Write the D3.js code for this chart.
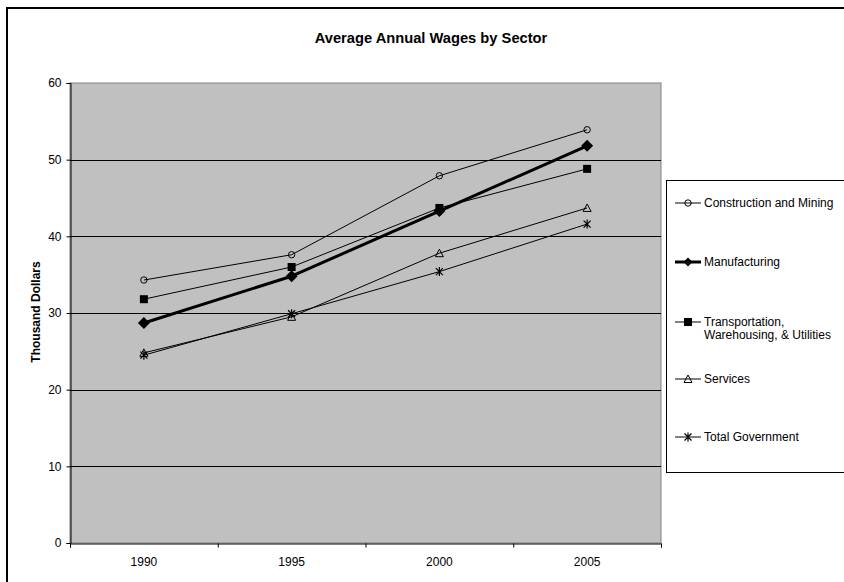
<!DOCTYPE html>
<html>
<head>
<meta charset="utf-8">
<script src="https://cdn.jsdelivr.net/npm/d3@7"></script>
<style>
  html, body { margin: 0; padding: 0; background: #fff; }
  svg { display: block; font-family: "Liberation Sans", Arial, sans-serif; }
</style>
</head>
<body>
<svg id="chart" width="844" height="582"></svg>
<script>
// Average annual wages (thousand dollars) by sector
const years = ["1990", "1995", "2000", "2005"];
const sectors = [
  "Construction and Mining",
  "Manufacturing",
  "Transportation, Warehousing, & Utilities",
  "Services",
  "Total Government"
];
const constructionMining = [34.3, 37.6, 47.9, 53.9];
const manufacturing      = [28.7, 34.8, 43.3, 51.8];
const transportation     = [31.8, 36.0, 43.7, 48.8];
const services           = [24.8, 29.5, 37.8, 43.7];
const totalGovernment    = [24.5, 29.9, 35.4, 41.6];
const yTicks = [0, 10, 20, 30, 40, 50, 60];

const seriesValues = [constructionMining, manufacturing, transportation, services, totalGovernment];
const markerTypes = ["circle", "diamond", "square", "triangle", "asterisk"];
const lineWidths = [1, 3, 1, 1, 1];
const legendLines = [
  ["Construction and Mining"],
  ["Manufacturing"],
  ["Transportation,", "Warehousing, & Utilities"],
  ["Services"],
  ["Total Government"]
];

const svg = d3.select("#chart");
const FONT = "Liberation Sans, Arial, sans-serif";

// outer chart frame
svg.append("rect")
  .attr("x", 7).attr("y", 8).attr("width", 900).attr("height", 640)
  .attr("fill", "#fff").attr("stroke", "#000").attr("stroke-width", 2);

const plot = { left: 70, right: 661, top: 83, bottom: 543 };

const x = d3.scaleBand().domain(years).range([plot.left, plot.right]).padding(0);
const xBound = d3.scaleLinear().domain([0, years.length]).range([plot.left, plot.right]);
const y = d3.scaleLinear().domain([0, 60]).range([plot.bottom, plot.top]);
const cx = d => x(d) + x.bandwidth() / 2;

// plot area
svg.append("rect")
  .attr("x", plot.left).attr("y", plot.top)
  .attr("width", plot.right - plot.left).attr("height", plot.bottom - plot.top)
  .attr("fill", "#c0c0c0").attr("stroke", "#808080").attr("stroke-width", 1);

// horizontal gridlines
svg.append("g").selectAll("line")
  .data(yTicks.filter(t => t > 0 && t < 60))
  .join("line")
  .attr("x1", plot.left).attr("x2", plot.right)
  .attr("y1", d => Math.round(y(d)) + 0.5).attr("y2", d => Math.round(y(d)) + 0.5)
  .attr("stroke", "#000").attr("stroke-width", 1);

// y axis
const yAxis = svg.append("g")
  .attr("transform", `translate(${plot.left + 0.5},0)`)
  .call(d3.axisLeft(y).tickValues(yTicks).tickSize(4).tickPadding(5).tickFormat(d3.format("d")));
yAxis.select(".domain").attr("stroke", "#000");
yAxis.selectAll(".tick line").attr("stroke", "#000");
yAxis.selectAll("text").attr("font-size", 12).attr("fill", "#000").attr("font-family", FONT);

// x axis: tick marks on category boundaries, labels centered in each category
const xAxis = svg.append("g")
  .attr("transform", `translate(0,${plot.bottom + 0.5})`)
  .call(d3.axisBottom(xBound).tickValues(d3.range(years.length + 1)).tickSize(4).tickFormat(""));
xAxis.select(".domain").attr("stroke", "#000");
xAxis.selectAll(".tick line").attr("stroke", "#000");

const xLabels = svg.append("g")
  .attr("transform", `translate(0,${plot.bottom + 0.5})`)
  .call(d3.axisBottom(x).tickSize(0).tickPadding(14));
xLabels.select(".domain").remove();
xLabels.selectAll("text").attr("font-size", 12).attr("fill", "#000").attr("font-family", FONT);

// title
svg.append("text")
  .attr("x", 431).attr("y", 43)
  .attr("text-anchor", "middle")
  .attr("font-size", 14.7).attr("font-weight", "bold")
  .text("Average Annual Wages by Sector");

// y axis title
svg.append("text")
  .attr("transform", `translate(40,312) rotate(-90)`)
  .attr("text-anchor", "middle")
  .attr("font-size", 12).attr("font-weight", "bold")
  .text("Thousand Dollars");

// marker drawing
function drawMarker(g, type, px, py) {
  if (type === "circle") {
    g.append("circle").attr("cx", px).attr("cy", py).attr("r", 3.2)
      .attr("fill", "none").attr("stroke", "#000").attr("stroke-width", 1);
  } else if (type === "diamond") {
    g.append("path")
      .attr("d", `M${px},${py - 6}L${px + 6},${py}L${px},${py + 6}L${px - 6},${py}Z`)
      .attr("fill", "#000");
  } else if (type === "square") {
    g.append("rect").attr("x", px - 4).attr("y", py - 4).attr("width", 8).attr("height", 8)
      .attr("fill", "#000");
  } else if (type === "triangle") {
    g.append("path")
      .attr("d", `M${px},${py - 4}L${px + 4},${py + 3.5}L${px - 4},${py + 3.5}Z`)
      .attr("fill", "none").attr("stroke", "#000").attr("stroke-width", 1);
  } else if (type === "asterisk") {
    g.append("path")
      .attr("d", `M${px - 3.5},${py - 3.5}L${px + 3.5},${py + 3.5}M${px + 3.5},${py - 3.5}L${px - 3.5},${py + 3.5}M${px},${py - 4.5}L${px},${py + 4.5}`)
      .attr("fill", "none").attr("stroke", "#000").attr("stroke-width", 1.2);
  }
}

// series lines and markers
const line = d3.line().x((d, i) => cx(years[i])).y(d => y(d));
seriesValues.forEach((vals, s) => {
  const g = svg.append("g");
  g.append("path")
    .attr("d", line(vals))
    .attr("fill", "none").attr("stroke", "#000")
    .attr("stroke-width", lineWidths[s]).attr("stroke-linejoin", "round");
  vals.forEach((v, i) => drawMarker(g, markerTypes[s], cx(years[i]), y(v)));
});

// legend
const legend = svg.append("g");
legend.append("rect")
  .attr("x", 666.5).attr("y", 180.5).attr("width", 300).attr("height", 292)
  .attr("fill", "#fff").attr("stroke", "#000").attr("stroke-width", 1);

const legendY = [203, 262, 322, 379, 437];
sectors.forEach((name, s) => {
  const ly = legendY[s];
  const g = legend.append("g");
  g.append("line")
    .attr("x1", 675).attr("x2", 701).attr("y1", ly).attr("y2", ly)
    .attr("stroke", "#000").attr("stroke-width", lineWidths[s]);
  const scale = s === 1 ? 0.75 : 1;
  const mg = g.append("g").attr("transform", `translate(688,${ly}) scale(${scale}) translate(-688,${-ly})`);
  drawMarker(mg, markerTypes[s], 688, ly);
  const t = g.append("text").attr("x", 704).attr("y", ly + 4)
    .attr("font-size", 12).attr("fill", "#000");
  legendLines[s].forEach((ln, k) => {
    t.append("tspan").attr("x", 704).attr("dy", k === 0 ? 0 : 13).text(ln);
  });
});
</script>
</body>
</html>
